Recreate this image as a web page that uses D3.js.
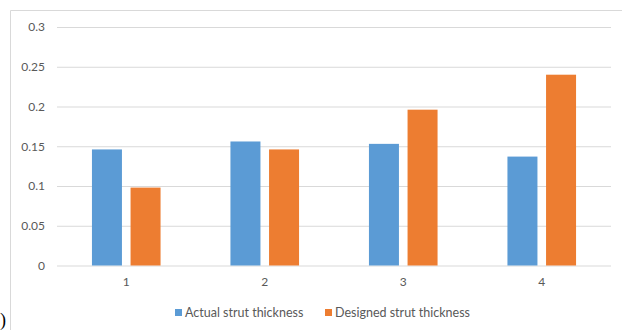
<!DOCTYPE html>
<html>
<head>
<meta charset="utf-8">
<script src="https://cdn.jsdelivr.net/npm/d3@7"></script>
<style>
  html, body { margin: 0; padding: 0; background: #fff; }
  svg { display: block; }
  text { font-family: Lato, "Open Sans", sans-serif; }
</style>
</head>
<body>
<svg id="chart" width="622" height="330"></svg>
<script>
// Strut thickness per sample
const categories = ["1", "2", "3", "4"];
const seriesNames = ["Actual strut thickness", "Designed strut thickness"];
const actualValues = [0.146, 0.156, 0.153, 0.137];
const designedValues = [0.098, 0.146, 0.196, 0.240];
const yTicks = [0, 0.05, 0.1, 0.15, 0.2, 0.25, 0.3];
const yTickLabels = ["0", "0.05", "0.1", "0.15", "0.2", "0.25", "0.3"];
const colors = ["#5B9BD5", "#ED7D31"];

const svg = d3.select("#chart");

// outer chart frame (left and top edges visible)
svg.append("path")
  .attr("d", "M10.5,330 L10.5,10.5 L622,10.5")
  .attr("fill", "none")
  .attr("stroke", "#d9d9d9")
  .attr("stroke-width", 1);

const plot = { left: 57, right: 611, top: 27, bottom: 265.5 };

const y = d3.scaleLinear().domain([0, 0.3]).range([plot.bottom, plot.top]);
const x0 = d3.scaleBand().domain(categories).range([plot.left, plot.right]).paddingInner(0).paddingOuter(0);
const x1 = d3.scaleBand().domain(seriesNames).range([0, x0.bandwidth()]).paddingInner(0.223).paddingOuter(0.905);

// gridlines + y axis labels
const yAxis = d3.axisLeft(y)
  .tickValues(yTicks)
  .tickFormat((d, i) => yTickLabels[i])
  .tickSize(-(plot.right - plot.left))
  .tickPadding(12);
const gy = svg.append("g").attr("transform", `translate(${plot.left},0)`).call(yAxis);
gy.select(".domain").remove();
gy.selectAll(".tick line").attr("stroke", "#d9d9d9").attr("stroke-width", 1);
gy.selectAll(".tick text").attr("fill", "#595959").style("font-size", "12px");

// x axis labels
const xAxis = d3.axisBottom(x0).tickSize(0).tickPadding(12);
const gx = svg.append("g").attr("transform", `translate(0,${plot.bottom})`).call(xAxis);
gx.select(".domain").remove();
gx.selectAll(".tick text").attr("fill", "#595959").style("font-size", "12px");

// bars
const rows = categories.map((c, i) => ({ cat: c, vals: [actualValues[i], designedValues[i]] }));
const groups = svg.append("g").selectAll("g").data(rows).join("g")
  .attr("transform", d => `translate(${x0(d.cat)},0)`);
groups.selectAll("rect")
  .data(d => d.vals.map((v, j) => ({ name: seriesNames[j], value: v, j })))
  .join("rect")
  .attr("x", d => x1(d.name))
  .attr("width", x1.bandwidth())
  .attr("y", d => y(d.value))
  .attr("height", d => y(0) - y(d.value))
  .attr("fill", d => colors[d.j]);

// legend
const legend = svg.append("g").attr("transform", "translate(0,313)");
const legendX = [175, 325];
seriesNames.forEach((n, j) => {
  const g = legend.append("g").attr("transform", `translate(${legendX[j]},0)`);
  g.append("rect").attr("x", 0).attr("y", -4).attr("width", 7).attr("height", 7).attr("fill", colors[j]);
  g.append("text").attr("x", 10).attr("y", 0).attr("dy", "0.35em")
    .attr("fill", "#595959").style("font-size", "12.5px").text(n);
});

// panel label fragment at bottom-left corner
svg.append("text").attr("x", 0).attr("y", 326)
  .attr("fill", "#000").style("font-size", "18px").style("font-family", "Liberation Serif, serif")
  .text(")");
</script>
</body>
</html>
